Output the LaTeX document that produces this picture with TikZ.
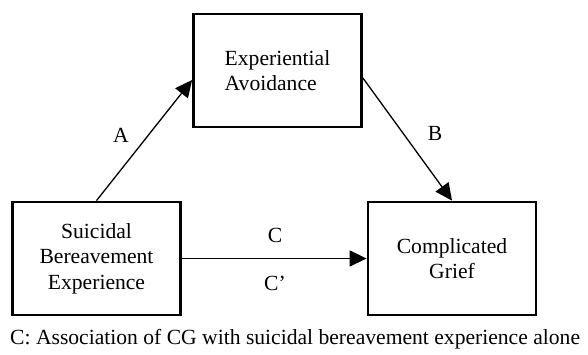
\documentclass[tikz,border=0pt]{standalone}
\usepackage{fontspec}
\setmainfont{Liberation Serif}
\usetikzlibrary{arrows.meta}
\newcommand{\figFont}{\fontsize{21.6}{25.5}\selectfont}
\newcommand{\predictorName}{Suicidal\\Bereavement\\Experience}
\newcommand{\mediatorName}{Experiential\\Avoidance}
\newcommand{\outcomeName}{Complicated\\Grief}
\newcommand{\noteText}{C: Association of CG with suicidal bereavement experience alone}

\tikzset{
  varBox/.style={draw, line width=2.8pt, inner sep=0pt, minimum width=168pt, minimum height=113pt, font=\figFont},
  pathArrow/.style={line width=1.3pt, -{Triangle[length=17pt,width=16pt]}},
  pathLabel/.style={font=\figFont, inner sep=0pt}
}

\begin{document}
\begin{tikzpicture}[x=1pt, y=-1pt]

    	% canvas
    	\useasboundingbox (0,0) rectangle (588,355);

    	% predictor
    	\node[varBox, align=center] (sbe) at (96.5,258.5) {\predictorName};

    	% mediator
    	\node[varBox, align=left] (ea) at (277.5,70.5) {\mediatorName};

    	% outcome
    	\node[varBox, align=center] (cg) at (452,258.5) {\outcomeName};

    	% paths
    	\draw[pathArrow] (sbe.north) -- ([yshift=-9.5pt]ea.west);
    	\draw[pathArrow] ([yshift=-7.5pt]ea.east) -- (cg.north);
    	\draw[pathArrow] (sbe.east) -- (cg.west);

    	% path labels
    	\node[pathLabel] (lblA) at (121,135) {A};
    	\node[pathLabel] (lblB) at (435,133) {B};
    	\node[pathLabel] (lblC) at (275,235) {C};
    	\node[pathLabel] (lblCp) at (275,283) {C'};

    	% note
    	\node[pathLabel, anchor=base west] (note) at (10,344) {\noteText};

\end{tikzpicture}
\end{document}
